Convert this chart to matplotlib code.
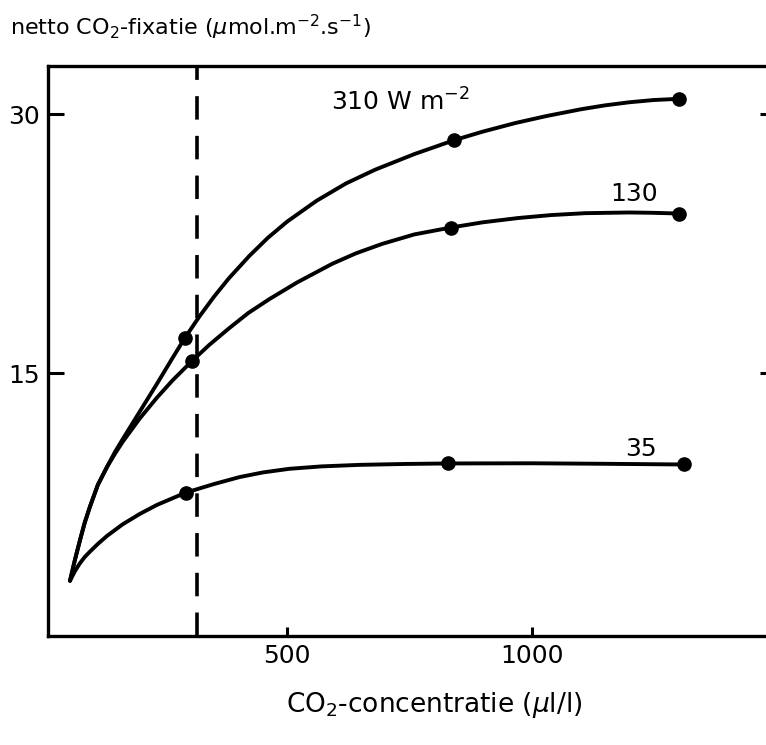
import matplotlib
matplotlib.use('Agg')
import matplotlib.pyplot as plt

plt.rcParams['font.family'] = ['DejaVu Sans']
plt.rcParams['mathtext.fontset'] = 'dejavusans'

# curves (CO2 in ul/l, fixation in umol m-2 s-1)
x_310 = [55, 65, 75, 85, 96, 112, 131, 147, 163, 198, 233, 265, 290, 320, 350, 380, 422, 460, 500,
         560, 620, 680, 760, 841, 900, 967, 1030, 1102, 1150, 1200, 1250, 1302]
y_310 = [3.0, 4.2, 5.3, 6.35, 7.3, 8.55, 9.6, 10.45, 11.2, 12.8, 14.4, 15.9, 17.05, 18.3, 19.45, 20.5, 21.8, 22.85, 23.8,
         25.0, 26.0, 26.8, 27.7, 28.5, 29.0, 29.5, 29.9, 30.3, 30.52, 30.7, 30.83, 30.9]

x_130 = [55, 65, 75, 85, 96, 112, 131, 147, 163, 198, 233, 265, 304, 340, 380, 420, 463, 520, 592,
         640, 694, 760, 835, 900, 973, 1040, 1110, 1200, 1250, 1302]
y_130 = [3.0, 4.2, 5.3, 6.35, 7.3, 8.55, 9.6, 10.35, 11.05, 12.4, 13.6, 14.6, 15.7, 16.65, 17.6, 18.5, 19.3, 20.27, 21.35,
         21.95, 22.5, 23.05, 23.45, 23.75, 24.0, 24.17, 24.28, 24.32, 24.3, 24.26]

x_35 = [55, 65, 75, 85, 96, 112, 131, 163, 198, 233, 292, 350, 402, 450, 504, 570, 650, 740, 829, 1000, 1150, 1312]
y_35 = [3.0, 3.55, 4.0, 4.37, 4.69, 5.13, 5.6, 6.27, 6.87, 7.39, 8.1, 8.6, 9.0, 9.27, 9.48, 9.62, 9.71, 9.76, 9.79, 9.8, 9.77, 9.73]

# measured points (dots)
px_310 = [290, 841, 1302]
py_310 = [17.05, 28.5, 30.9]
px_130 = [304, 835, 1302]
py_130 = [15.7, 23.45, 24.26]
px_35 = [292, 829, 1312]
py_35 = [8.1, 9.79, 9.73]

co2_now = 315

fig = plt.figure(figsize=(7.66, 7.45), dpi=100)
ax = fig.add_axes([0.0627, 0.1463, 0.950, 0.7651])

lw = 2.8
for x, y in [(x_310, y_310), (x_130, y_130), (x_35, y_35)]:
    ax.plot(x, y, color='black', lw=lw, solid_capstyle='round', solid_joinstyle='round')
for x, y in [(px_310, py_310), (px_130, py_130), (px_35, py_35)]:
    ax.plot(x, y, 'o', color='black', ms=9.5, ls='none')

ax.axvline(co2_now, color='black', lw=2.6, ls=(0, (6.5, 4.5)))

ax.text(590, 30.2, '310 W m$^{-2}$', fontsize=18, ha='left', va='baseline')
ax.text(1161, 24.96, '130', fontsize=18, ha='left', va='baseline')
ax.text(1192, 10.25, '35', fontsize=18, ha='left', va='baseline')

ax.set_xlim(10, 1500)
ax.set_ylim(-0.2, 32.8)
ax.set_xticks([500, 1000])
ax.set_yticks([15, 30])
ax.tick_params(axis='y', direction='in', length=11.5, width=2.2, labelsize=18, pad=6, right=True)
ax.tick_params(axis='x', direction='in', length=6.5, width=2.2, labelsize=18, pad=6)
for s in ax.spines.values():
    s.set_linewidth(2.4)

fig.text(10 / 766, 1 - 35 / 745, 'netto CO$_2$-fixatie ($\\mu$mol.m$^{-2}$.s$^{-1}$)',
         fontsize=16, ha='left', va='baseline')
fig.text(434 / 766, 1 - 712 / 745, 'CO$_2$-concentratie ($\\mu$l/l)',
         fontsize=19, ha='center', va='baseline')

fig.savefig('out.png', dpi=100)
